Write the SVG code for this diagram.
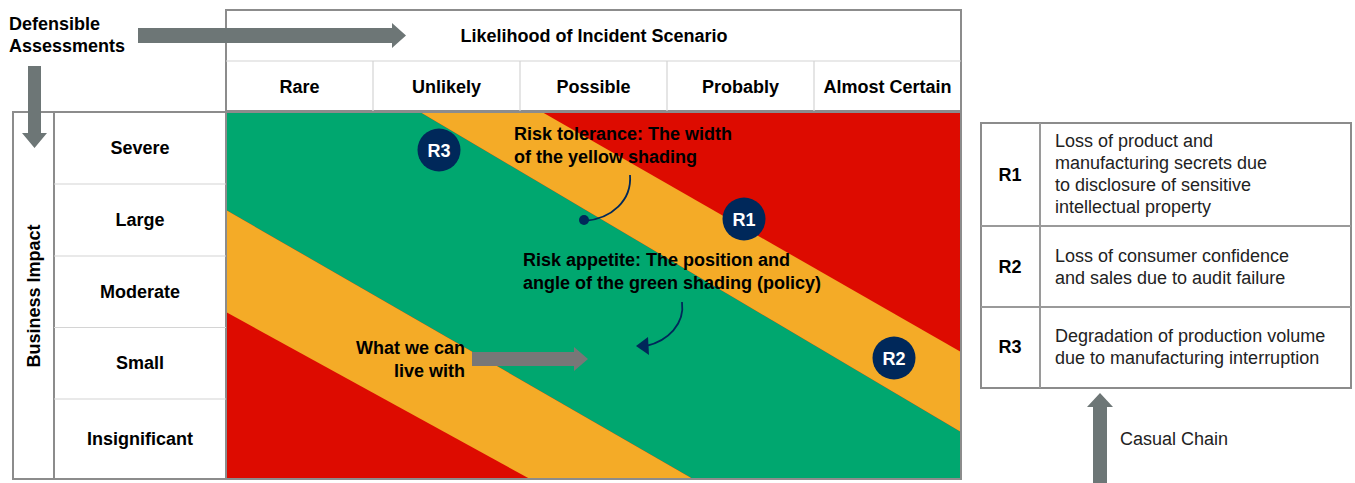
<svg xmlns="http://www.w3.org/2000/svg" width="1355" height="483" viewBox="0 0 1355 483">
<style>
.b{font-family:"Liberation Sans",Arial,sans-serif;font-weight:bold;font-size:18px;fill:#000}
.r{font-family:"Liberation Sans",Arial,sans-serif;font-size:18px;fill:#222}
.c{text-anchor:middle}
.w{fill:#fff}
.outer{fill:none;stroke:#8c8c8c;stroke-width:2}
.inner{stroke:#d4d4d4;stroke-width:1.2}
.tline{stroke:#9a9a9a;stroke-width:2}
.garrow{fill:#6d7676}
.navy{fill:#00285a}
</style>
<defs>
<marker id="ah" viewBox="0 0 10 10" refX="2" refY="5" markerWidth="5" markerHeight="5" orient="auto" markerUnits="strokeWidth">
<path d="M0,0 L10,5 L0,10 L3,5 z" fill="#00285a" transform="rotate(180 5 5)"/>
</marker>
</defs>
<rect width="1355" height="483" fill="#fff"/>

<g id="heatmap">
<rect x="226" y="112" width="735" height="367" fill="#dd0b00"/>
<polygon points="226,112 420,112 961,432 961,479 693,479 226,210" fill="#00a76f"/>
<polygon points="420,112 542,112 961,352 961,432" fill="#f4ab27"/>
<polygon points="226,210 693,479 530,479 226,312" fill="#f4ab27"/>
<rect x="226" y="112" width="735" height="367" class="outer"/>
</g>

<g id="likelihood-header">
<rect x="226" y="10" width="735" height="101" fill="#fff" class="outer"/>
<line x1="226" y1="61" x2="961" y2="61" class="inner"/>
<line x1="373" y1="61" x2="373" y2="111" class="inner"/>
<line x1="520" y1="61" x2="520" y2="111" class="inner"/>
<line x1="667" y1="61" x2="667" y2="111" class="inner"/>
<line x1="814" y1="61" x2="814" y2="111" class="inner"/>
<text class="b c" x="594" y="42">Likelihood of Incident Scenario</text>
<text class="b c" x="299.5" y="93">Rare</text>
<text class="b c" x="446.5" y="93">Unlikely</text>
<text class="b c" x="593.5" y="93">Possible</text>
<text class="b c" x="740.5" y="93">Probably</text>
<text class="b c" x="887.5" y="93">Almost Certain</text>
</g>

<g id="impact-axis">
<rect x="13" y="112" width="213" height="367" fill="#fff" class="outer"/>
<line x1="54" y1="112" x2="54" y2="479" class="outer"/>
<line x1="54" y1="184" x2="226" y2="184" class="inner"/>
<line x1="54" y1="256" x2="226" y2="256" class="inner"/>
<line x1="54" y1="327.5" x2="226" y2="327.5" class="inner"/>
<line x1="54" y1="399" x2="226" y2="399" class="inner"/>
<text class="b" x="40" y="296" text-anchor="middle" transform="rotate(-90 40 296)">Business Impact</text>
<text class="b c" x="140" y="154">Severe</text>
<text class="b c" x="140" y="226">Large</text>
<text class="b c" x="140" y="298">Moderate</text>
<text class="b c" x="140" y="369">Small</text>
<text class="b c" x="140" y="445">Insignificant</text>
</g>

<g id="defensible">
<text class="b" x="9" y="30">Defensible</text>
<text class="b" x="9" y="52">Assessments</text>
</g>

<g id="connectors">
<polygon class="garrow" points="138,28 392,28 392,23 406,35.5 392,48 392,43 138,43"/>
<polygon class="garrow" points="28,66 41,66 41,133 47,133 34.5,148 22,133 28,133"/>
<polygon fill="#777" points="472,352 574,352 574,347 588,359 574,371 574,366 472,366"/>
<polygon class="garrow" points="1093,483 1093,407 1087,407 1100,393 1113,407 1107,407 1107,483"/>
<path d="M630,175 C632,200 612,219 584,221" fill="none" stroke="#00285a" stroke-width="1.8"/>
<circle cx="584" cy="220" r="5" class="navy"/>
<path d="M682,302 C685,324 668,341 646,346" fill="none" stroke="#00285a" stroke-width="1.8"/>
<polygon class="navy" points="636,346 648,337 649,355"/>
</g>

<g id="annotations">
<text class="b" x="514" y="140">Risk tolerance: The width</text>
<text class="b" x="514" y="163">of the yellow shading</text>
<text class="b" x="523" y="266">Risk appetite: The position and</text>
<text class="b" x="523" y="289">angle of the green shading (policy)</text>
<text class="b" x="465" y="354" text-anchor="end">What we can</text>
<text class="b" x="465" y="377" text-anchor="end">live with</text>
</g>

<g id="R3"><circle cx="439" cy="150" r="21.5" class="navy"/><text class="b c w" x="439" y="156.5">R3</text></g>
<g id="R1"><circle cx="744" cy="219" r="21.5" class="navy"/><text class="b c w" x="744" y="225.5">R1</text></g>
<g id="R2"><circle cx="894" cy="358" r="21.5" class="navy"/><text class="b c w" x="894" y="364.5">R2</text></g>

<g id="risk-table">
<rect x="981" y="123" width="370" height="265" fill="#fff" class="outer"/>
<line x1="1040" y1="123" x2="1040" y2="388" class="tline"/>
<line x1="981" y1="226" x2="1351" y2="226" class="tline"/>
<line x1="981" y1="307" x2="1351" y2="307" class="tline"/>
<text class="b c" x="1010" y="181">R1</text>
<text class="b c" x="1010" y="273">R2</text>
<text class="b c" x="1010" y="353">R3</text>
<text class="r" x="1055" y="147">Loss of product and</text>
<text class="r" x="1055" y="169">manufacturing secrets due</text>
<text class="r" x="1055" y="191">to disclosure of sensitive</text>
<text class="r" x="1055" y="213">intellectual property</text>
<text class="r" x="1055" y="262">Loss of consumer confidence</text>
<text class="r" x="1055" y="284">and sales due to audit failure</text>
<text class="r" x="1055" y="342">Degradation of production volume</text>
<text class="r" x="1055" y="364">due to manufacturing interruption</text>
</g>

<g id="causal-chain">
<text class="r" x="1120" y="445">Casual Chain</text>
</g>
</svg>
